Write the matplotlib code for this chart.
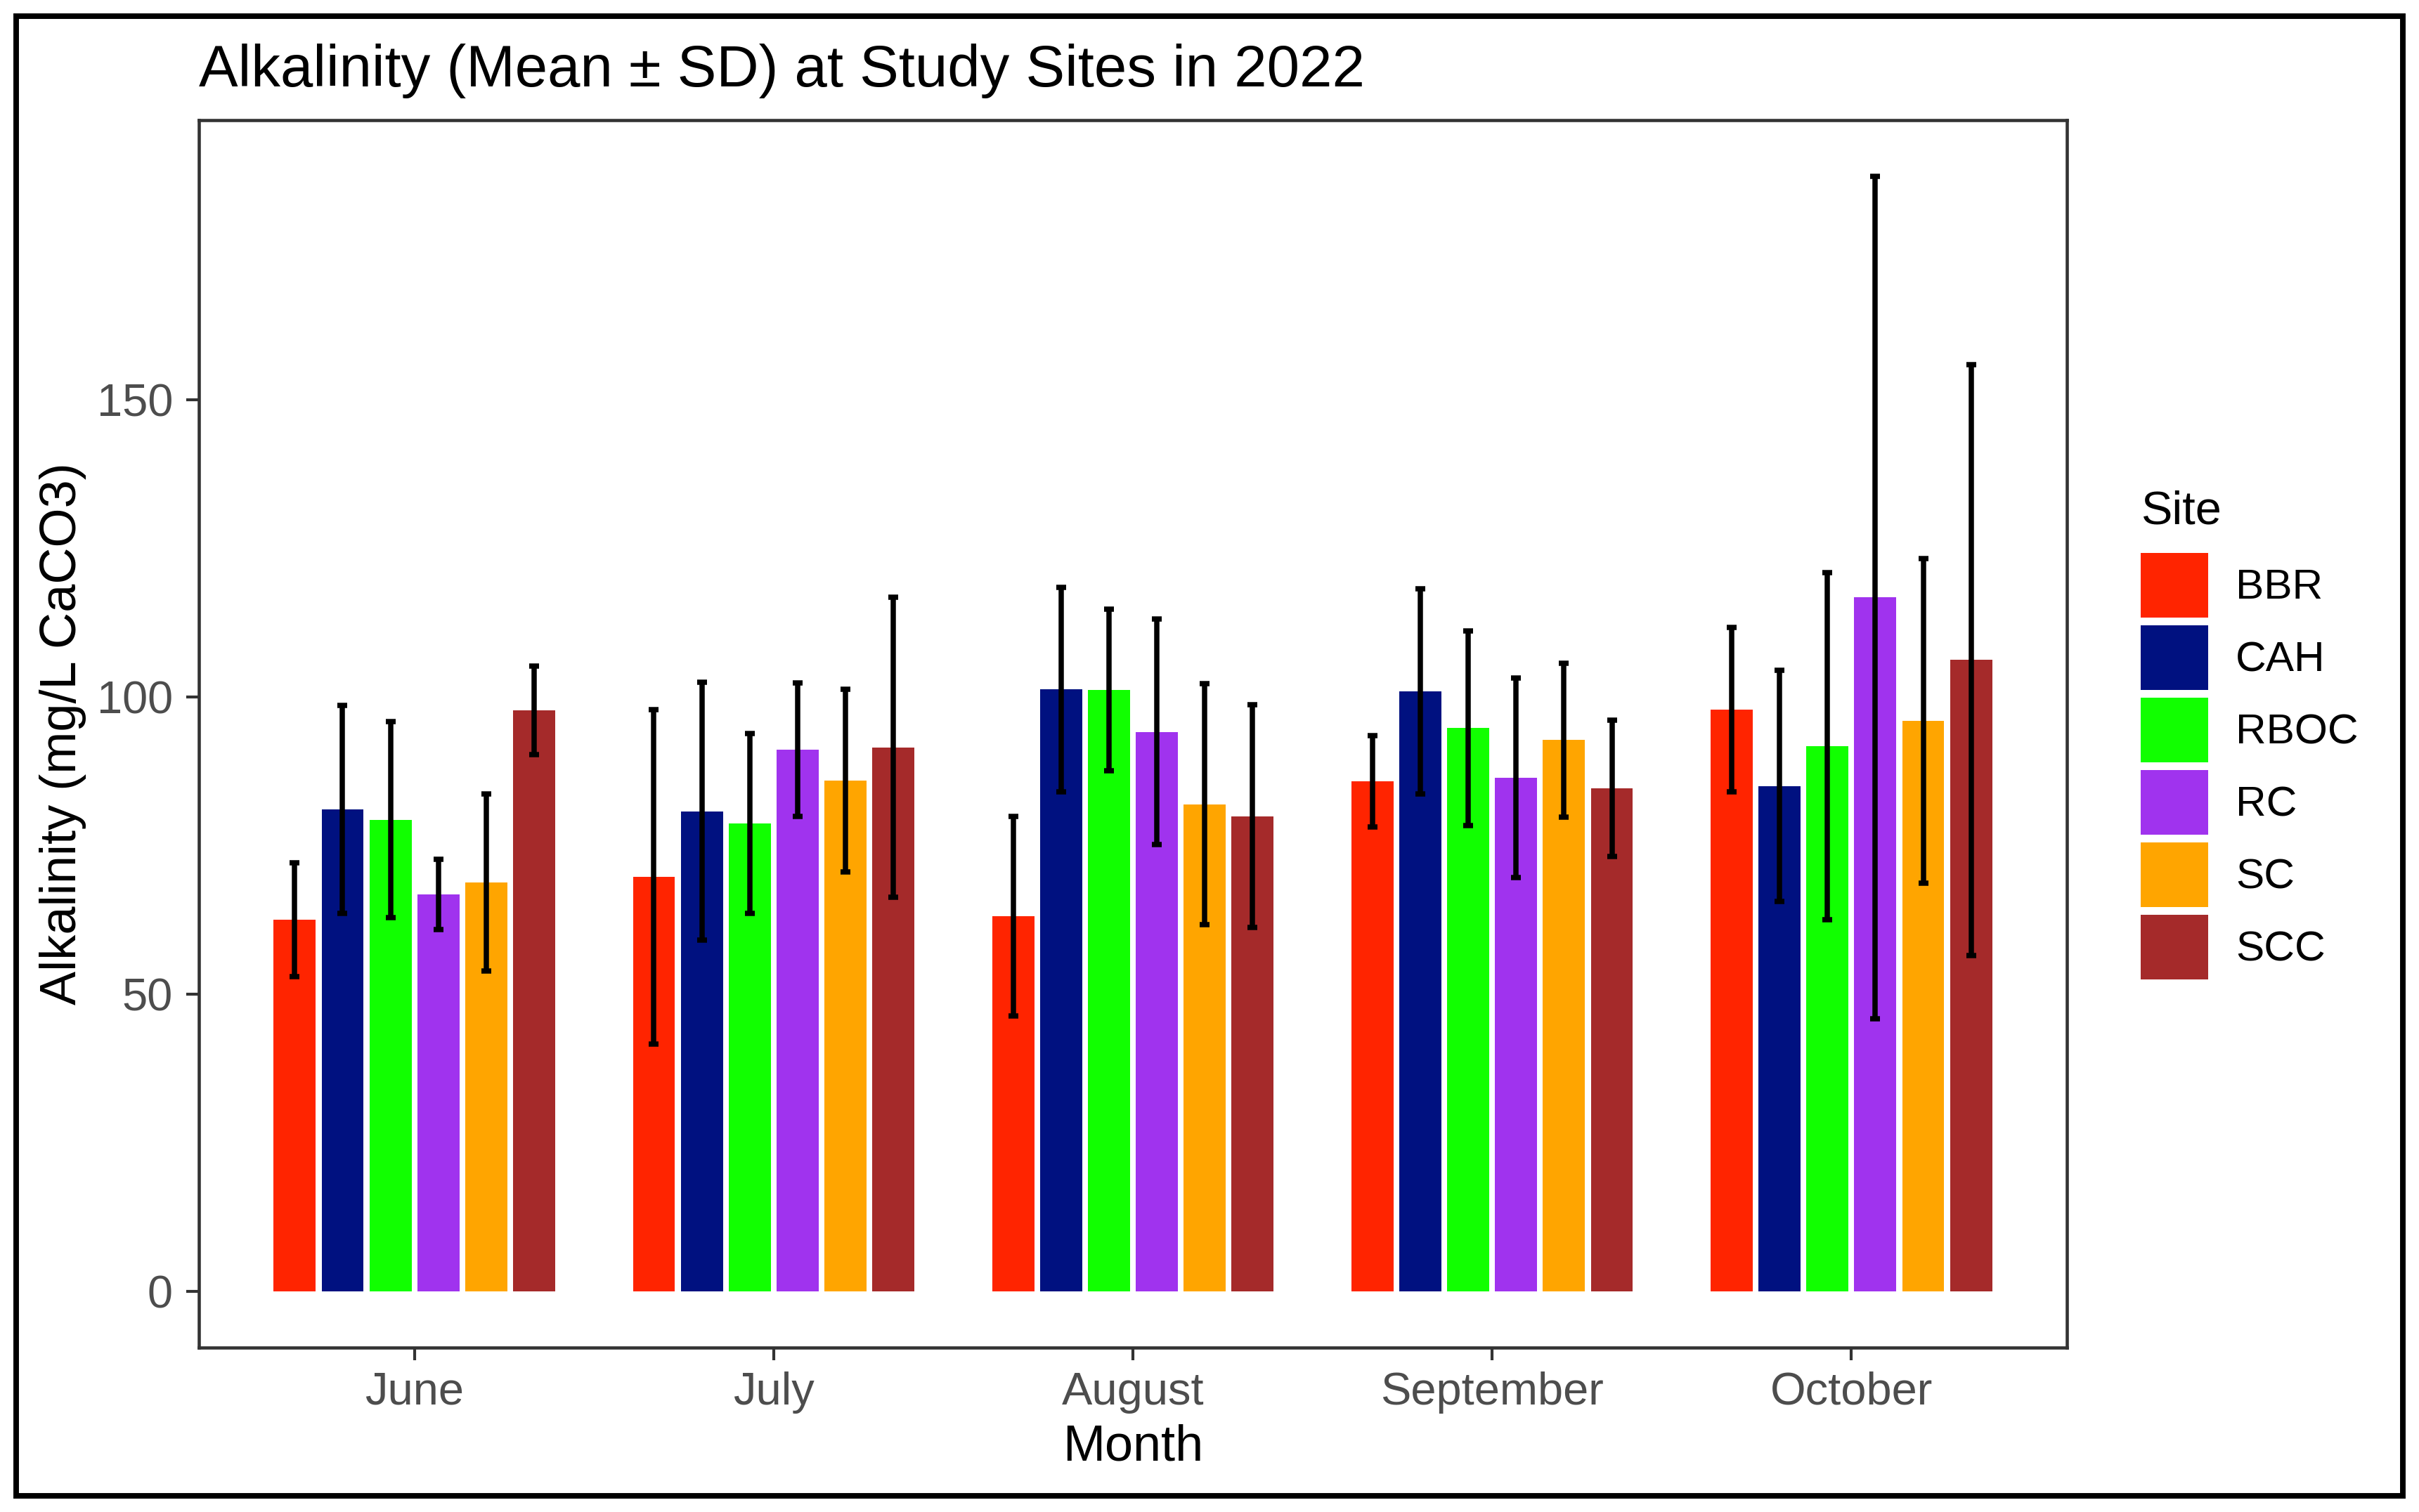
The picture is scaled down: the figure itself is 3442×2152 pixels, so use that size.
import numpy as np
import matplotlib
matplotlib.use("Agg")
import matplotlib.pyplot as plt
from matplotlib.patches import Patch, Rectangle

plt.rcParams['font.family'] = ['Liberation Sans', 'DejaVu Sans']

# data (mean and SD per site and month)
months = ["June", "July", "August", "September", "October"]
sites = ["BBR", "CAH", "RBOC", "RC", "SC", "SCC"]
colors = ["#FF2400", "#001180", "#11FF00", "#A033EE", "#FFA500", "#A52A2A"]

bbr_mean = [62.6, 69.8, 63.2, 85.9, 97.9]
bbr_sd = [9.6, 28.1, 16.8, 7.7, 13.8]
cah_mean = [81.1, 80.8, 101.3, 101.0, 85.1]
cah_sd = [17.5, 21.7, 17.2, 17.2, 19.5]
rboc_mean = [79.4, 78.8, 101.2, 94.8, 91.8]
rboc_sd = [16.5, 15.1, 13.6, 16.4, 29.2]
rc_mean = [66.8, 91.2, 94.2, 86.5, 116.8]
rc_sd = [5.9, 11.2, 19.0, 16.8, 70.9]
sc_mean = [68.8, 86.0, 82.0, 92.8, 96.0]
sc_sd = [14.9, 15.4, 20.3, 12.9, 27.3]
scc_mean = [97.8, 91.6, 80.0, 84.7, 106.3]
scc_sd = [7.4, 25.2, 18.7, 11.5, 49.7]

means = [bbr_mean, cah_mean, rboc_mean, rc_mean, sc_mean, scc_mean]
sds = [bbr_sd, cah_sd, rboc_sd, rc_sd, sc_sd, scc_sd]

W, H, DPI = 3442, 2152, 300
fig = plt.figure(figsize=(W / DPI, H / DPI), dpi=DPI)
fig.patch.set_facecolor("white")

# panel placement (pixels -> figure fraction)
L, R, T, B = 283, 2941, 171, 1918
ax = fig.add_axes([L / W, 1 - B / H, (R - L) / W, (B - T) / H])

x = np.arange(len(months))
dodge = 0.8
slot = dodge / len(sites)
for j, s in enumerate(sites):
    xs = x + (j - (len(sites) - 1) / 2) * slot
    ax.bar(xs, means[j], width=0.117, color=colors[j], label=s, zorder=2)
    ax.errorbar(xs, means[j], yerr=sds[j], fmt='none', ecolor='black',
                elinewidth=1.8, capsize=1.7, capthick=1.8, zorder=3)

ax.set_xlim(-0.6, len(months) - 0.4)
ax.set_ylim(-9.4, 197.1)
ax.set_xticks(x)
ax.set_xticklabels(months)
ax.set_yticks([0, 50, 100, 150])

for sp in ax.spines.values():
    sp.set_color("#333333")
    sp.set_linewidth(1.1)
ax.tick_params(axis='both', length=4.3, width=1.0, color="#333333",
               labelsize=15.6, labelcolor="#4D4D4D")
ax.tick_params(axis='x', pad=3.8)
ax.tick_params(axis='y', pad=4.6)

ax.set_xlabel("Month", fontsize=17.3, labelpad=3.6)
ax.set_ylabel("Alkalinity (mg/L CaCO3)", fontsize=17.3, labelpad=3.5)

fig.text(L / W, 1 - 123 / H, "Alkalinity (Mean \u00b1 SD) at Study Sites in 2022",
         fontsize=20, ha='left', va='baseline')

# legend: title as its own text, keys below it
fig.text(3046 / W, 1 - 746 / H, "Site", fontsize=16, ha='left', va='baseline')
handles = [Patch(facecolor=c, edgecolor='none', label=s) for s, c in zip(sites, colors)]
leg = ax.legend(handles=handles, loc='upper left',
                bbox_to_anchor=(3046 / W, 1 - 787 / H), bbox_transform=fig.transFigure,
                frameon=False, fontsize=14.5, handlelength=1.59, handleheight=1.97,
                labelspacing=0.18, handletextpad=0.65, borderpad=0, borderaxespad=0)

# black frame round the whole picture
ix, iy = 23 / W, 23 / H
fig.add_artist(Rectangle((ix, iy), 1 - 2 * ix, 1 - 2 * iy, transform=fig.transFigure,
                         fill=False, edgecolor='black', linewidth=1.9))

plt.savefig("out.png", dpi=DPI)
